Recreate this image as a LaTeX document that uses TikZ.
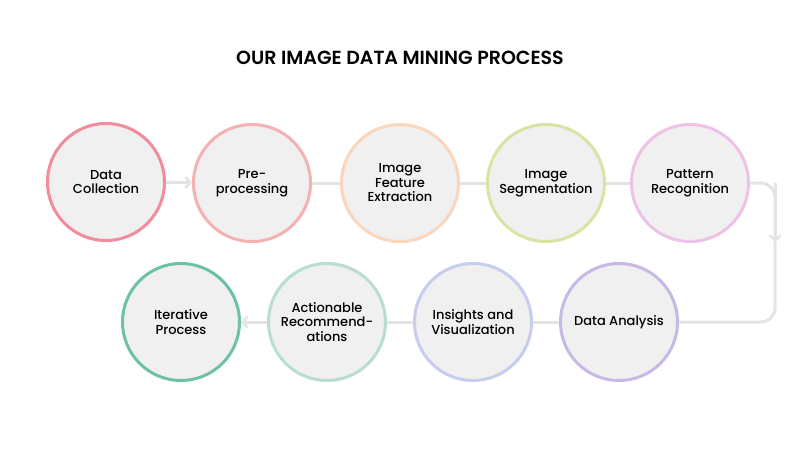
\documentclass[tikz,border=0pt]{standalone}
\usepackage{fontspec}
\setmainfont{Poppins}[UprightFont=* Medium,BoldFont=* SemiBold]
\usetikzlibrary{arrows.meta}
\definecolor{cA}{HTML}{F08C9C}
\definecolor{cB}{HTML}{F4B2B2}
\definecolor{cC}{HTML}{FAD6BC}
\definecolor{cD}{HTML}{D8E4A2}
\definecolor{cE}{HTML}{EEC2E8}
\definecolor{cF}{HTML}{C8B8E6}
\definecolor{cG}{HTML}{C8CCEE}
\definecolor{cH}{HTML}{B8DECE}
\definecolor{cI}{HTML}{6CC2A2}
\definecolor{fillc}{HTML}{F0F0F0}
\definecolor{linec}{HTML}{E4E4E4}
\begin{document}
\begin{tikzpicture}[x=1pt,y=-1pt,
  stage/.style={circle,draw=#1,line width=3pt,fill=fillc,minimum size=117pt,inner sep=0pt,align=center,font=\fontsize{13}{14.5}\selectfont},
  conn/.style={draw=linec,line width=3pt},
  arr/.style={conn,-{Straight Barb[length=5pt,width=11pt,line width=2.5pt]}}]
\useasboundingbox (0,0) rectangle (800,450);
\fill[white] (0,0) rectangle (800,450);
\node[font=\bfseries\fontsize{19}{22}\selectfont] (title) at (400,58) {OUR IMAGE DATA MINING PROCESS};
\node[stage=cA] (n1) at (106,182) {Data\\Collection};
\node[stage=cB] (n2) at (252,183) {Pre-\\processing};
\node[stage=cC] (n3) at (400,183) {Image\\Feature\\Extraction};
\node[stage=cD] (n4) at (546,183) {Image\\Segmentation};
\node[stage=cE] (n5) at (690,183) {Pattern\\Recognition};
\node[stage=cF] (n6) at (619,322) {Data Analysis};
\node[stage=cG] (n7) at (473,322) {Insights and\\Visualization};
\node[stage=cH] (n8) at (327,322) {Actionable\\Recommend-\\ations};
\node[stage=cI] (n9) at (181,322) {Iterative\\Process};
\coordinate (c1) at (775,183);
\coordinate (c2) at (775,242);
\coordinate (c3) at (775,322);
\draw[arr] (n1) -- (n2);
\draw[conn] (n2) -- (n3);
\draw[conn] (n3) -- (n4);
\draw[conn] (n4) -- (n5);
\draw[conn,rounded corners=14pt] (n5.east) -- (c1) -- (c3) -- (n6.east);
\draw[arr] (c1) -- (c2);
\draw[conn] (n6) -- (n7);
\draw[conn] (n7) -- (n8);
\draw[arr] (n8) -- (n9);
\end{tikzpicture}
\end{document}
